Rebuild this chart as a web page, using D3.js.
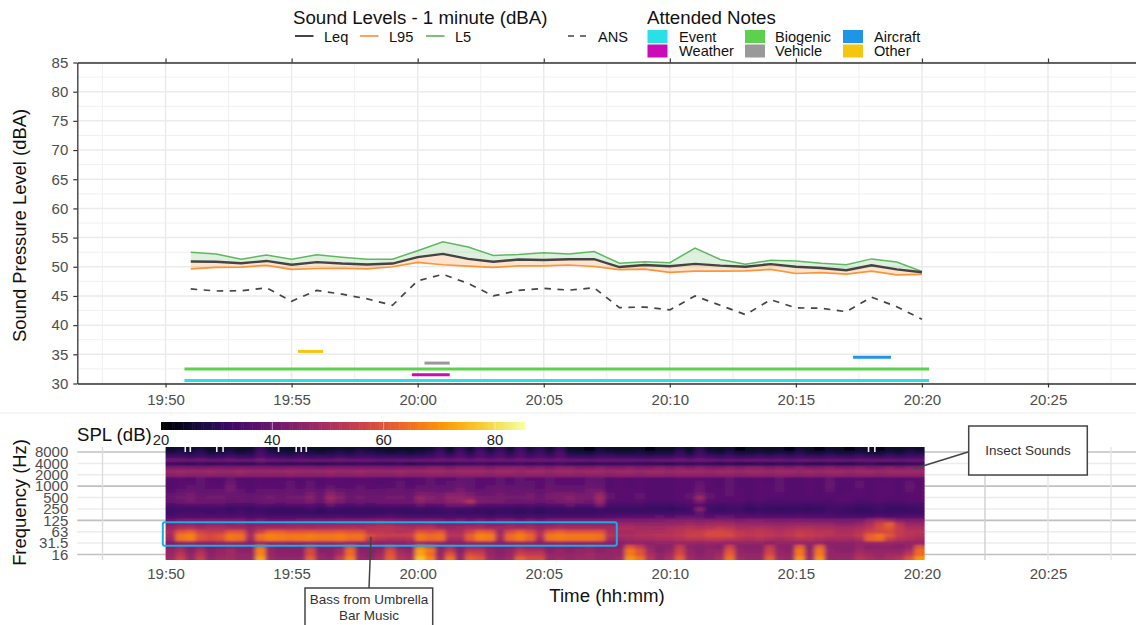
<!DOCTYPE html>
<html><head><meta charset="utf-8">
<script src="https://cdn.jsdelivr.net/npm/d3@7"></script>
<style>
html,body{margin:0;padding:0;background:#fff;overflow:hidden}
text{font-family:"Liberation Sans",Arial,sans-serif}
</style></head><body><svg id="c" width="1136" height="625"></svg>
<script>
const minuteLabels=["19:51","19:52","19:53","19:54","19:55","19:56","19:57","19:58","19:59","20:00","20:01","20:02","20:03","20:04","20:05","20:06","20:07","20:08","20:09","20:10","20:11","20:12","20:13","20:14","20:15","20:16","20:17","20:18","20:19","20:20"];
const L5=[52.5,52.2,51.3,52,51.3,52.05,51.65,51.3,51.3,52.75,54.3,53.4,51.95,52.1,52.4,52.2,52.6,50.6,50.85,50.7,53.2,51.25,50.45,51.1,51,50.6,50.35,51.35,50.8,49.2];
const Leq=[50.9,50.85,50.6,51,50.35,50.8,50.55,50.4,50.55,51.65,52.2,51.35,50.85,51.25,51.15,51.3,51.3,49.95,50.3,50.1,50.5,50.2,50,50.45,50,49.8,49.4,50.25,49.55,49.05];
const L95=[49.65,49.9,49.95,50.25,49.55,49.7,49.75,49.65,50,50.75,50.35,50.1,49.9,50.15,50.15,50.3,50.05,49.5,49.6,49.05,49.25,49.25,49.3,49.55,48.85,49,48.75,49.25,48.6,48.7];
const ANS=[46.2,45.85,45.9,46.4,44.1,45.95,45.3,44.5,43.4,47.6,48.7,47.15,45,45.95,46.3,46,46.4,43,43.1,42.6,45,43.4,41.8,44.35,42.95,42.9,42.3,44.8,43.15,41];
const noteNames=["Event","Biogenic","Other","Vehicle","Weather","Aircraft"];
const noteLevels=[30.5,32.5,35.5,33.5,31.5,34.5];
const noteStart=[0.75,0.75,5.25,10.27,9.77,27.27];
const noteEnd=[30.28,30.28,6.25,11.27,11.27,28.77];
const noteColors=["#29e0e6","#5dd14d","#f5c60f","#999999","#cb0ab8","#2094e6"];
const yTicks=[30,35,40,45,50,55,60,65,70,75,80,85];
const timeTicks=[0,5,10,15,20,25,30,35];
const timeLabels=["19:50","19:55","20:00","20:05","20:10","20:15","20:20","20:25"];
const freqLabels=["8000","4000","2000","1000","500","250","125","63","31.5","16"];
const splTicks=[20,40,60,80];
const whiteStart=[0.75,0.95,2.0,2.25,4.45,5.15,5.35,5.55,27.85,28.1];
const band00=[25,26,25,27,24,25,26,24,25,32,26,25,24,26,25,24,25,26,25,27,26,25,24,25,24,25,26,30,25,31,26,32,27,31,26,33,27,30,26,32,25,24,23,26,25,24,24,25,23,24,24,28,24,30,25,24,26,23,24,25,24,25,23,26,24,23,25,24,23,25,24,23,25,24,26,25];
const band01=[28,29,28,30,27,28,29,27,28,34,29,28,27,29,28,27,28,29,28,30,29,28,27,28,27,28,29,33,28,34,29,35,30,34,29,35,30,33,29,35,28,27,26,29,28,27,27,28,26,27,27,31,27,33,28,27,29,26,27,28,27,28,26,29,27,26,28,27,26,28,27,26,28,27,29,28];
const band02=[33,33,32,33,31,32,33,32,32,36,33,32,31,33,32,32,32,33,32,33,33,32,32,32,31,32,33,35,33,36,33,36,34,36,33,36,33,35,33,36,32,32,31,33,33,32,32,32,31,32,32,34,32,35,33,32,33,31,32,33,32,33,32,33,32,31,33,32,31,33,32,31,33,32,33,33];
const band03=[40,40,39,40,39,39,40,39,39,41,39,39,38,39,39,39,39,40,39,39,39,38,38,39,38,39,39,40,39,40,39,40,39,40,39,40,39,40,39,40,39,39,38,39,39,39,39,38,38,39,39,40,39,40,39,38,39,38,39,39,39,39,38,39,39,38,39,39,38,39,39,39,39,38,39,39];
const band04=[32,31,30,32,30,31,32,30,30,33,31,31,30,31,30,29,30,31,30,31,31,30,30,31,29,30,31,31,30,32,32,33,31,32,32,33,31,32,31,33,31,30,30,31,31,31,31,31,30,30,29,31,30,32,30,29,30,29,29,30,29,30,30,31,29,29,30,29,29,30,31,29,29,30,31,31];
const band05=[42,43,43,42,43,43,42,43,43,43,43,42,43,43,43,42,43,43,43,43,43,43,42,43,43,43,44,44,43,44,44,44,43,44,44,44,43,44,43,44,44,43,43,44,43,43,44,43,43,44,43,44,43,44,43,43,44,43,44,44,43,44,43,44,43,43,44,43,43,44,43,43,44,43,44,44];
const band06=[47,48,47,47,48,47,47,48,47,47,47,47,48,47,47,47,48,47,47,48,47,47,47,48,47,47,48,48,47,48,48,48,47,48,48,47,48,48,47,48,48,47,48,48,47,48,48,47,48,48,47,48,48,48,47,48,48,47,48,48,47,48,48,47,48,47,48,48,47,48,48,47,48,48,48,48];
const band07=[44,45,44,44,45,44,44,45,44,44,44,44,45,44,44,44,45,44,44,45,44,44,44,45,44,44,45,45,44,45,45,45,44,45,45,44,45,45,44,45,45,44,45,45,44,45,45,44,45,45,44,45,45,45,44,45,45,44,45,45,44,45,45,44,45,44,45,45,44,45,45,44,45,45,45,45];
const band08=[36,37,36,38,36,36,38,36,36,37,36,36,37,36,37,36,37,37,36,37,37,36,36,37,36,37,38,37,37,38,38,37,37,38,37,38,37,37,38,37,37,37,38,38,36,37,36,37,36,36,36,37,37,37,37,36,38,36,36,37,36,38,36,36,37,36,38,36,36,37,36,36,37,36,37,37];
const band09=[36,37,37,38,37,36,40,37,36,37,37,37,38,36,38,36,37,37,37,37,37,36,37,38,36,37,38,37,38,39,38,37,37,38,37,38,38,37,38,37,37,37,39,38,36,37,36,37,36,36,36,37,37,38,37,36,38,36,36,37,36,38,36,36,37,36,39,36,36,38,36,37,37,36,38,37];
const band10=[36,37,38,38,37,37,41,37,36,37,37,37,38,37,38,37,38,37,37,38,37,37,37,38,37,38,38,38,38,40,38,37,38,39,38,38,38,37,39,38,38,38,39,39,36,37,36,37,36,36,36,37,37,39,37,36,38,36,36,37,37,38,36,36,37,36,39,36,36,38,36,37,37,36,39,37];
const band11=[37,38,39,38,38,38,41,38,37,38,38,38,39,38,40,38,41,39,38,39,38,38,39,39,38,40,40,39,39,42,39,38,39,40,39,39,39,38,40,39,39,39,41,41,37,37,37,37,36,36,36,37,37,40,37,37,38,37,36,37,37,38,36,36,37,36,38,36,36,37,36,37,37,36,38,37];
const band12=[38,40,41,39,39,40,40,39,38,39,40,39,40,39,42,39,45,42,39,40,39,39,40,40,39,43,42,41,44,44,42,40,40,41,40,40,41,39,41,42,42,41,41,46,38,37,37,38,36,36,36,37,38,42,38,37,38,37,36,37,37,37,36,36,37,36,37,36,37,37,36,37,37,36,37,37];
const band13=[39,41,42,40,41,41,39,40,39,40,41,40,41,41,44,40,48,44,40,41,40,40,41,41,40,47,44,43,46,46,45,42,41,42,41,41,42,40,42,43,44,42,42,49,38,37,37,38,36,36,36,37,38,48,38,37,37,37,36,37,36,36,36,36,36,36,36,37,37,36,36,37,36,36,37,37];
const band14=[38,40,41,40,40,40,38,39,38,39,40,39,40,40,42,39,45,41,39,40,39,40,40,40,40,45,43,42,45,46,52,42,41,41,40,40,40,39,40,41,43,41,40,47,37,36,36,37,35,35,35,36,37,41,37,36,36,36,35,36,35,35,35,35,35,35,35,36,36,35,35,36,35,35,36,36];
const band15=[35,36,36,36,36,37,35,35,35,36,36,35,36,36,37,35,38,36,35,36,35,36,36,36,36,38,37,37,40,40,39,37,36,36,36,35,36,35,36,36,38,36,36,41,34,34,34,34,33,33,33,34,35,37,34,33,34,34,33,34,33,33,33,33,33,33,34,34,34,33,33,34,33,33,34,34];
const band16=[33,33,33,33,33,33,32,33,32,33,32,32,32,32,33,31,33,32,32,32,32,32,32,32,32,33,32,33,34,33,33,32,32,32,32,31,32,31,32,32,33,32,32,33,32,32,32,32,32,32,31,32,33,44,33,32,33,33,31,32,32,31,32,32,31,32,33,33,32,31,32,33,32,32,32,33];
const band17=[33,34,34,34,33,34,33,34,33,33,32,32,32,32,32,31,32,32,32,32,32,32,33,32,32,32,32,32,33,32,32,32,31,32,32,31,32,31,32,32,32,32,32,33,33,33,33,33,33,33,33,34,34,38,34,34,34,34,33,34,33,33,33,33,33,33,34,33,33,32,32,33,33,33,33,33];
const band18=[35,36,36,36,36,36,36,37,35,36,35,35,35,35,35,35,35,36,35,35,35,36,37,36,35,35,35,35,35,35,35,35,34,35,35,34,35,34,35,35,35,35,35,35,36,37,37,37,37,38,37,38,38,38,37,38,38,37,37,37,36,37,36,37,36,36,36,35,35,35,35,36,35,36,36,36];
const band19=[40,41,42,41,42,42,41,42,40,41,40,40,40,41,41,41,41,42,42,42,43,44,43,42,41,41,42,41,40,41,40,41,40,41,41,40,41,40,41,41,41,41,41,42,42,43,43,42,43,43,44,44,45,44,44,45,44,43,44,44,43,42,43,43,42,42,42,41,41,42,46,50,48,44,43,43];
const band20=[44,46,46,45,46,46,45,46,44,45,45,45,46,46,46,46,46,47,47,47,48,49,49,47,46,46,47,45,44,45,45,46,45,45,46,45,46,44,45,46,46,46,46,46,46,47,47,46,46,46,46,47,48,47,48,49,49,47,47,47,46,46,46,47,47,46,46,45,45,46,50,56,62,52,47,47];
const band21=[47,50,51,49,50,50,49,48,46,48,49,49,49,50,49,50,50,50,51,50,51,52,52,51,50,51,52,48,47,48,50,50,48,48,49,49,49,47,49,50,49,49,49,49,49,50,50,49,49,49,50,51,52,51,52,54,53,50,50,51,50,49,50,51,51,50,50,49,49,50,53,58,60,54,50,50];
const band22=[50,60,62,56,54,54,60,60,48,56,62,62,60,60,61,60,60,61,60,60,53,53,52,51,52,60,58,60,50,50,56,62,61,48,58,62,58,50,60,62,60,60,60,60,50,49,49,50,50,50,51,52,54,54,57,57,56,53,52,53,52,51,52,54,53,52,52,50,50,52,56,57,58,54,52,52];
const band23=[49,66,68,60,58,60,66,65,50,65,68,67,66,66,67,66,66,67,65,65,58,56,55,55,56,66,64,65,52,52,62,68,67,50,64,67,63,52,66,67,66,66,66,65,52,50,50,51,51,52,52,53,55,55,58,58,58,54,53,54,53,52,53,55,54,53,52,51,51,54,62,65,60,54,52,51];
const band24=[47,65,67,59,57,59,65,64,48,64,67,66,65,66,66,65,65,66,64,64,53,51,50,50,51,65,63,64,49,49,61,67,66,48,63,66,62,49,65,66,65,65,65,64,49,47,48,49,49,50,50,51,52,52,53,53,52,51,50,51,50,49,50,51,51,50,49,49,48,50,62,64,55,51,50,49];
const band25=[43,46,47,45,45,46,47,46,44,47,47,47,46,46,47,47,47,48,46,46,46,45,45,45,46,47,46,46,44,44,46,47,47,44,46,47,46,44,46,47,46,46,46,46,44,44,45,46,45,46,46,47,47,46,47,46,46,46,46,46,45,46,46,46,46,46,45,45,45,46,47,47,47,46,46,46];
const band26=[44,48,44,46,43,44,46,45,44,64,46,44,44,44,54,44,44,46,60,44,44,45,54,45,44,66,60,45,50,44,48,48,45,44,44,48,46,46,44,45,44,45,46,44,45,44,60,54,46,44,45,54,45,44,45,44,56,45,44,44,54,45,44,62,45,62,45,44,44,46,44,45,45,44,46,60];
const band27=[46,50,44,50,44,46,48,45,45,68,46,44,44,44,58,44,44,48,64,45,44,46,58,48,46,72,66,46,54,44,52,52,46,44,46,52,50,50,44,46,45,46,47,45,46,46,66,60,48,44,46,56,46,44,46,46,60,46,45,45,56,46,45,66,46,66,46,45,44,48,46,46,46,46,50,64];
const band28=[47,52,46,52,45,47,48,46,46,68,47,45,45,45,58,46,45,50,64,46,45,48,60,50,48,72,64,47,60,46,58,56,47,45,47,56,54,54,46,47,46,47,48,46,46,47,66,60,50,46,48,58,47,45,46,48,62,47,46,46,58,47,46,66,47,66,46,46,46,50,48,47,48,48,54,64];
const band29=[48,56,47,55,46,48,49,47,47,72,48,46,46,46,62,47,46,55,68,47,46,50,62,52,50,76,68,48,65,47,62,60,48,46,48,62,58,58,47,48,47,48,48,47,47,48,70,65,52,46,50,62,48,46,47,50,65,48,47,47,62,48,47,70,48,70,47,47,47,52,50,48,50,52,60,70];
const bands=[band00,band01,band02,band03,band04,band05,band06,band07,band08,band09,band10,band11,band12,band13,band14,band15,band16,band17,band18,band19,band20,band21,band22,band23,band24,band25,band26,band27,band28,band29];

const svg=d3.select("#c");
const toMin=s=>{const [h,m]=s.split(":").map(Number);return (h-19)*60+m-50;};
const minutes=minuteLabels.map(toMin);
const x=d3.scaleLinear().domain([-3.5,38.49]).range([77.3,1136]);
const y=d3.scaleLinear().domain([30,85]).range([383.5,62.5]);
const textCol="#4d4d4d";

// faint separator
svg.append("line").attr("x1",0).attr("x2",1136).attr("y1",413).attr("y2",413).attr("stroke","#ececec").attr("stroke-width",1);

// top grid
const upper=svg.append("g");
const minorT=d3.range(-2.5,38,5), minorY=d3.range(32.5,85,5);
upper.selectAll(".mv").data(minorT).join("line").attr("class","mv").attr("x1",d=>x(d)).attr("x2",d=>x(d)).attr("y1",y(85)).attr("y2",y(30)).attr("stroke","#f0f0f0").attr("stroke-width",1);
upper.selectAll(".mh").data(minorY).join("line").attr("class","mh").attr("x1",x.range()[0]).attr("x2",1136).attr("y1",d=>y(d)).attr("y2",d=>y(d)).attr("stroke","#f0f0f0").attr("stroke-width",1);
upper.selectAll(".Mv").data(timeTicks).join("line").attr("class","Mv").attr("x1",d=>x(d)).attr("x2",d=>x(d)).attr("y1",y(85)).attr("y2",y(30)).attr("stroke","#ebebeb").attr("stroke-width",1.5);
upper.selectAll(".Mh").data(yTicks).join("line").attr("class","Mh").attr("x1",x.range()[0]).attr("x2",1136).attr("y1",d=>y(d)).attr("y2",d=>y(d)).attr("stroke","#ebebeb").attr("stroke-width",1.5);

// ribbons
const rib=(a,b)=>d3.area().x((d,i)=>x(minutes[i])).y0((d,i)=>y(a[i])).y1((d,i)=>y(b[i]));
upper.append("path").datum(minutes).attr("d",rib(Leq,L5)).attr("fill","#5cb85c").attr("fill-opacity",0.2);
upper.append("path").datum(minutes).attr("d",rib(L95,Leq)).attr("fill","#f98e2a").attr("fill-opacity",0.24);
const ln=d3.line().x((d,i)=>x(minutes[i])).y(d=>y(d));
upper.append("path").datum(ANS).attr("d",ln).attr("fill","none").attr("stroke","#444").attr("stroke-width",1.7).attr("stroke-dasharray","6.5,6.5");
upper.append("path").datum(L5).attr("d",ln).attr("fill","none").attr("stroke","#5fb860").attr("stroke-width",1.5);
upper.append("path").datum(L95).attr("d",ln).attr("fill","none").attr("stroke","#f9953a").attr("stroke-width",1.7);
upper.append("path").datum(Leq).attr("d",ln).attr("fill","none").attr("stroke","#444").attr("stroke-width",2.4);

// notes
upper.selectAll(".note").data(noteNames).join("line").attr("class","note")
 .attr("x1",(d,i)=>x(noteStart[i])).attr("x2",(d,i)=>x(noteEnd[i]))
 .attr("y1",(d,i)=>y(noteLevels[i])).attr("y2",(d,i)=>y(noteLevels[i]))
 .attr("stroke",(d,i)=>noteColors[i]).attr("stroke-width",3);

// top axes
const styleAxis=(g,size)=>{g.selectAll("text").attr("fill",textCol).style("font-size",size+"px").style("font-family",'"Liberation Sans",Arial,sans-serif');g.selectAll("line,path").attr("stroke","#333");g.select(".domain").attr("stroke-width",1.3);g.selectAll(".tick line").attr("stroke-width",1.2);};
svg.append("g").attr("transform","translate(77.3,0)").call(d3.axisLeft(y).tickValues(yTicks).tickSize(4).tickPadding(5).tickSizeOuter(0)).call(styleAxis,15);
svg.append("g").attr("transform","translate(0,383.5)").call(d3.axisBottom(x).tickValues(timeTicks).tickFormat((d,i)=>timeLabels[i]).tickSize(4).tickPadding(7).tickSizeOuter(0)).call(styleAxis,15);
svg.append("g").attr("transform","translate(0,62.5)").call(d3.axisTop(x).tickValues(timeTicks).tickFormat("").tickSize(4).tickSizeOuter(0)).call(styleAxis,15);
svg.append("text").attr("transform","translate(26,225.5) rotate(-90)").attr("text-anchor","middle").style("font-size","18.4px").attr("fill","#111").text("Sound Pressure Level (dBA)");

// legend
svg.append("text").attr("x",293).attr("y",24).style("font-size","18.7px").attr("fill","#111").text("Sound Levels - 1 minute (dBA)");
svg.append("text").attr("x",647).attr("y",24).style("font-size","18.7px").attr("fill","#111").text("Attended Notes");
const legLines=[["Leq","#444",295,324,null],["L95","#f9953a",360,389,null],["L5","#5fb860",426,455,null],["ANS","#444",568,598,"6,6"]];
legLines.forEach(d=>{svg.append("line").attr("x1",d[2]).attr("x2",d[2]+18.5).attr("y1",36).attr("y2",36).attr("stroke",d[1]).attr("stroke-width",d[0]==="Leq"?2:1.7).attr("stroke-dasharray",d[4]);
 svg.append("text").attr("x",d[3]).attr("y",42).style("font-size","14.6px").attr("fill","#111").text(d[0]);});
const legBoxes=[["Event",0,647.5,679,30,42],["Biogenic",1,745,775,30,42],["Aircraft",5,843,874,30,42],["Weather",4,647.5,679,44.5,56],["Vehicle",3,745,775,44.5,56],["Other",2,843,874,44.5,56]];
legBoxes.forEach(d=>{svg.append("rect").attr("x",d[2]).attr("y",d[4]).attr("width",20).attr("height",13).attr("fill",noteColors[d[1]]);
 svg.append("text").attr("x",d[3]).attr("y",d[5]).style("font-size","14.6px").attr("fill","#111").text(d[0]);});

// lower panel
const yF=d3.scalePoint().domain(freqLabels).range([452,554.5]);
const low=svg.append("g");
const darkF=new Set(["8000","1000","125","16"]);
low.selectAll(".fg").data(freqLabels).join("line").attr("class","fg").attr("x1",77.3).attr("x2",1136).attr("y1",d=>yF(d)).attr("y2",d=>yF(d))
 .attr("stroke",d=>darkF.has(d)?"#c0c0c0":"#ececec").attr("stroke-width",d=>darkF.has(d)?1.7:1.5);
const vLow=[-2.5,32.5,35,37.5], vCol=["#dcdcdc","#cfcfcf","#e6e6e6","#e6e6e6"];
low.selectAll(".vg").data(vLow).join("line").attr("class","vg").attr("x1",d=>x(d)).attr("x2",d=>x(d)).attr("y1",447).attr("y2",560).attr("stroke",(d,i)=>vCol[i]).attr("stroke-width",1.4);

const cols=d3.range(band00.length);
const xC=d3.scaleBand().domain(cols).range([x(0),x(30.1)]);
const yR=d3.scaleBand().domain(d3.range(bands.length)).range([447,560]);
const spl=d3.scaleLinear().domain([20,85.4]).range([0,1]).clamp(true);
const cells=bands.flatMap((b,r)=>b.map((v,c)=>({r,c,v})));
const defs=svg.append("defs");
defs.append("filter").attr("id","soft").attr("x","-2%").attr("y","-5%").attr("width","104%").attr("height","110%")
 .append("feGaussianBlur").attr("stdDeviation","2.2 1.1");
defs.append("clipPath").attr("id","heatclip").append("rect").attr("x",x(0)).attr("y",447).attr("width",x(30.1)-x(0)).attr("height",113);
const hg=svg.append("g").attr("clip-path","url(#heatclip)");
const draw=g=>g.selectAll("rect").data(cells).join("rect").attr("x",d=>xC(d.c)).attr("y",d=>yR(d.r)).attr("width",xC.bandwidth()+0.5).attr("height",yR.bandwidth()+0.5).attr("fill",d=>d3.interpolateInferno(spl(d.v)));
hg.append("g").call(draw);
hg.append("g").attr("filter","url(#soft)").call(draw);
hg.selectAll(".w").data(whiteStart).join("rect").attr("class","w").attr("x",d=>x(d)).attr("y",447).attr("width",1.6).attr("height",5).attr("fill","#eeeeee");

// lower axes text (no lines)
const ax=svg.append("g").attr("transform","translate(0,560)").call(d3.axisBottom(x).tickValues(timeTicks).tickFormat((d,i)=>timeLabels[i]).tickSize(0).tickPadding(8)).call(styleAxis,15);
ax.select(".domain").remove();
const af=svg.append("g").attr("transform","translate(77.3,0)").call(d3.axisLeft(yF).tickSize(0).tickPadding(9)).call(styleAxis,15);
af.select(".domain").remove();
svg.append("text").attr("x",607).attr("y",602).attr("text-anchor","middle").style("font-size","18.7px").attr("fill","#111").text("Time (hh:mm)");
svg.append("text").attr("transform","translate(26,502.5) rotate(-90)").attr("text-anchor","middle").style("font-size","18.4px").attr("fill","#111").text("Frequency (Hz)");
svg.append("text").attr("x",77).attr("y",441).style("font-size","18.6px").attr("fill","#111").text("SPL (dB)");

// colour bar
const xS=d3.scaleLinear().domain([20,85.4]).range([161,525]);
const steps=d3.range(20,85.4,0.4);
svg.append("g").selectAll("rect").data(steps).join("rect").attr("x",d=>xS(d)).attr("y",422).attr("width",d=>Math.min(xS(20.4)-xS(20)+0.5,525-xS(d))).attr("height",8).attr("fill",d=>d3.interpolateInferno(spl(d)));
svg.append("g").selectAll("line").data(splTicks.slice(1)).join("line").attr("x1",d=>xS(d)).attr("x2",d=>xS(d)).attr("y1",422).attr("y2",430).attr("stroke","#fff").attr("stroke-opacity",.5);
svg.append("g").selectAll("text").data(splTicks).join("text").attr("x",d=>xS(d)).attr("y",445).attr("text-anchor","middle").style("font-size","14.8px").attr("fill","#222").text(d=>d);

// music highlight and callouts
svg.append("rect").attr("x",162.8).attr("y",522.3).attr("width",454).attr("height",23.4).attr("rx",2).attr("fill","none").attr("stroke","#16aee6").attr("stroke-width",2);
svg.append("line").attr("x1",914).attr("y1",468.7).attr("x2",968).attr("y2",452).attr("stroke","#444").attr("stroke-width",1.5);
svg.append("rect").attr("x",968.7).attr("y",426).attr("width",118.6).attr("height",49).attr("fill","#fff").attr("stroke","#444").attr("stroke-width",1.5);
svg.append("text").attr("x",1028).attr("y",455).attr("text-anchor","middle").style("font-size","13.5px").attr("fill","#333").text("Insect Sounds");
svg.append("line").attr("x1",371).attr("y1",536.7).attr("x2",369).attr("y2",588).attr("stroke","#444").attr("stroke-width",1.5);
svg.append("rect").attr("x",305).attr("y",588).attr("width",127.7).attr("height",60).attr("fill","#fff").attr("stroke","#444").attr("stroke-width",1.5);
svg.append("text").attr("x",369).attr("y",603.5).attr("text-anchor","middle").style("font-size","13.5px").attr("fill","#333").text("Bass from Umbrella");
svg.append("text").attr("x",369).attr("y",619.5).attr("text-anchor","middle").style("font-size","13.5px").attr("fill","#333").text("Bar Music");
</script></body></html>
